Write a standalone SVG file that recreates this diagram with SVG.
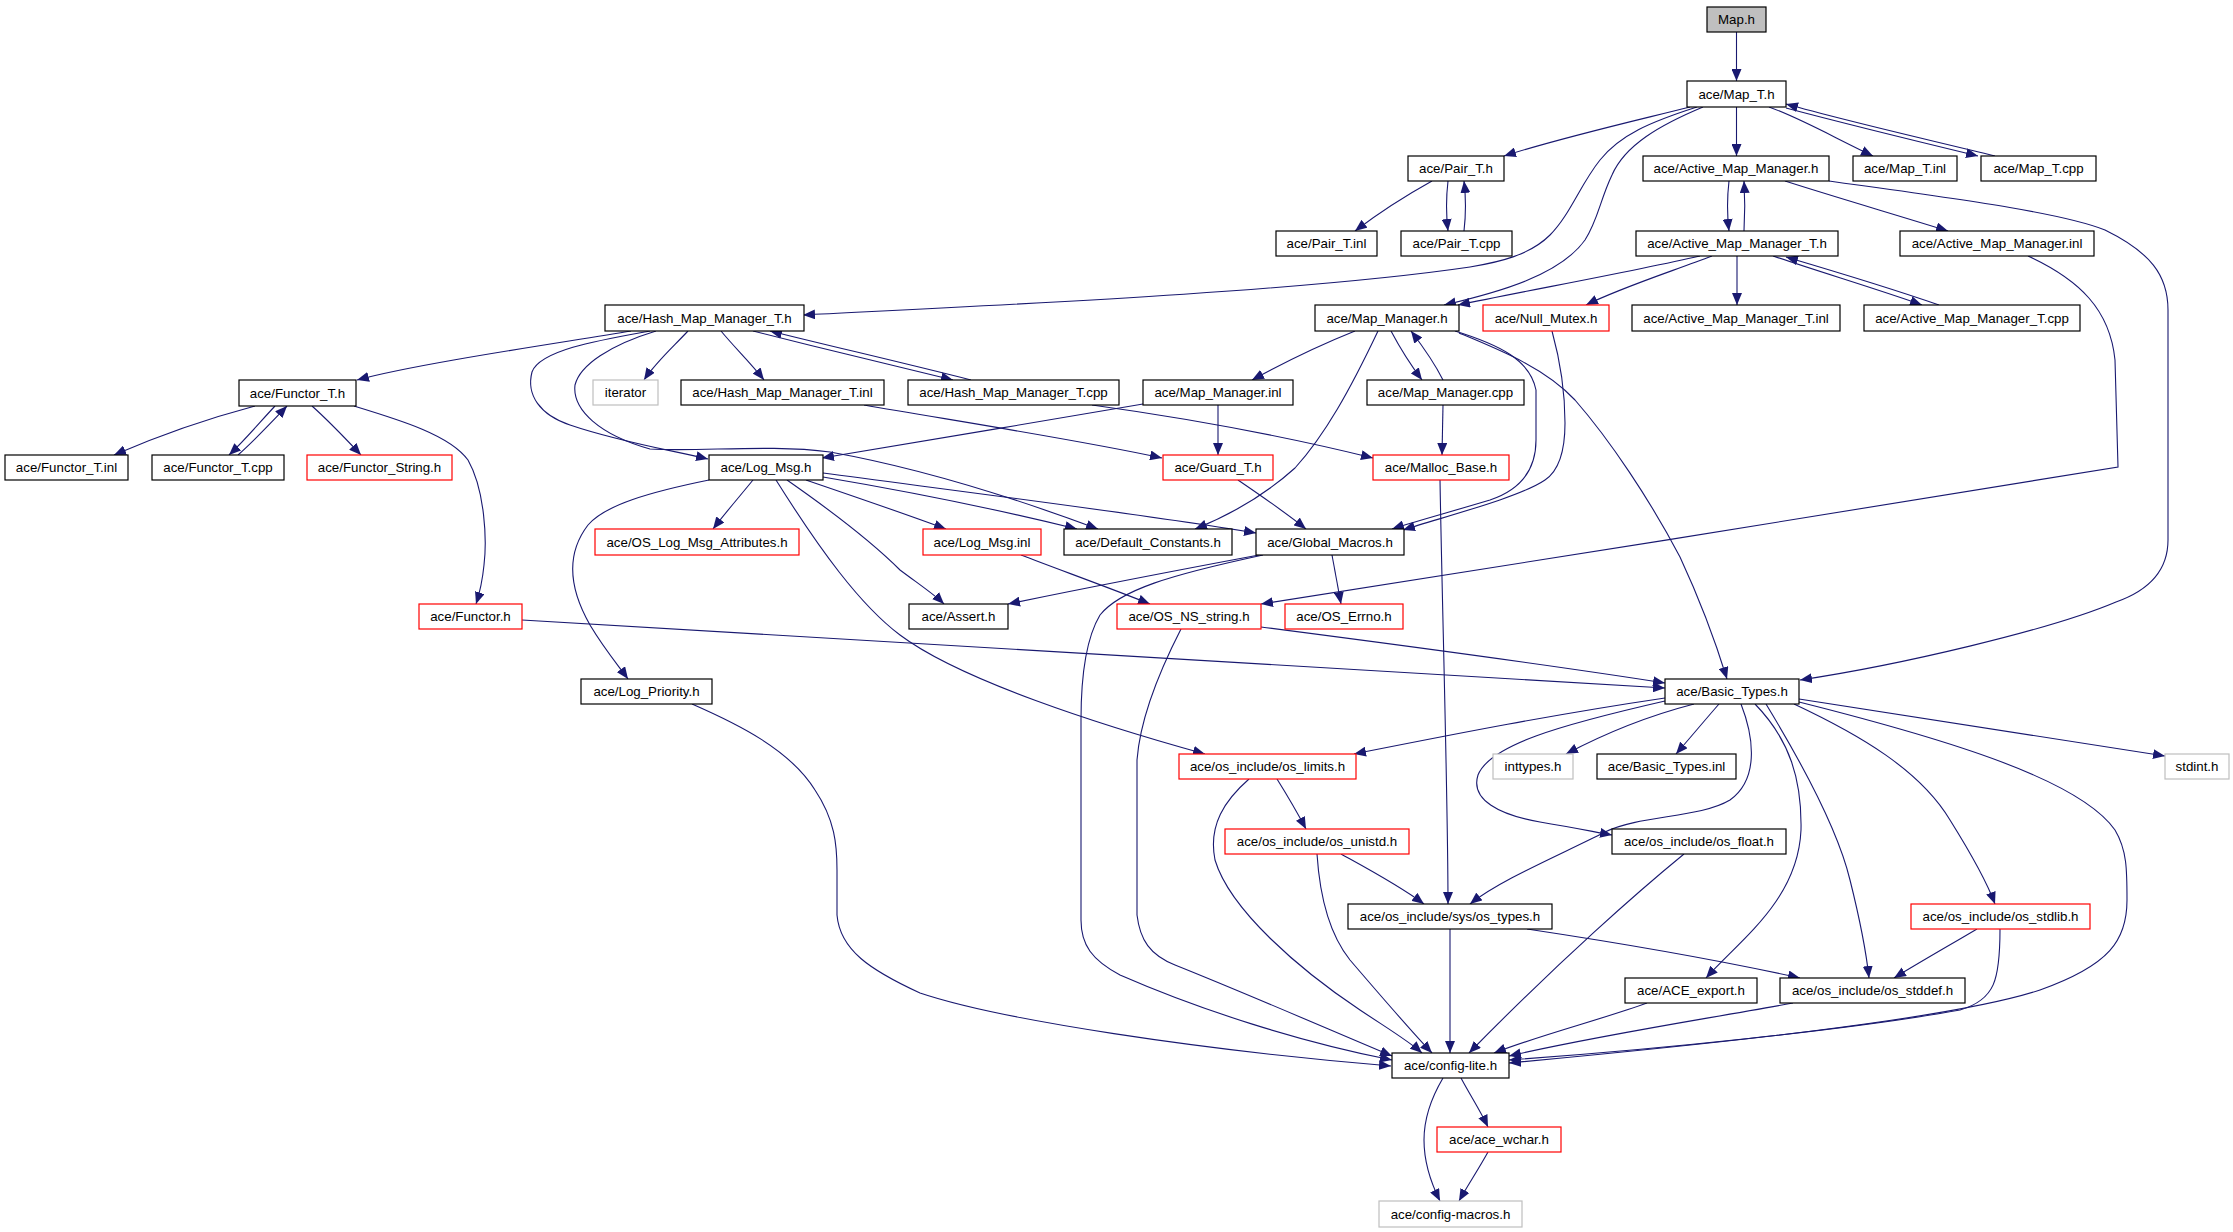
<svg xmlns="http://www.w3.org/2000/svg" width="2233" height="1232" viewBox="0 0 2233 1232">
<defs>
<marker id="a" markerWidth="12" markerHeight="10" refX="12" refY="5" orient="auto" markerUnits="userSpaceOnUse"><path d="M0,0 L12,5 L0,10 z" fill="#191970"/></marker>
<style>
.n rect{fill:#fff;stroke:#000;stroke-width:1.2}
.n.r rect{stroke:#ff0000}
.n.g rect{stroke:#bfbfbf}
.n.root rect{fill:#bfbfbf}
.n text{font-family:"Liberation Sans",Arial,sans-serif;font-size:13.3px;text-anchor:middle;fill:#000}
#edges path{fill:none;stroke:#191970;stroke-width:1.1;marker-end:url(#a)}
</style>
</defs>
<rect width="2233" height="1232" fill="#fff"/>
<g id="edges">
<path d="M1736.5,32 L1736.5,81"/>
<path d="M1690,107 C1630,122 1560,138 1504,156"/>
<path d="M1697,107 C1650,122 1620,135 1600,160 C1580,185 1570,215 1550,235 C1530,255 1500,262 1470,267 C1300,292 1000,305 803,315"/>
<path d="M1703,107 C1660,125 1625,145 1612,175 C1600,200 1598,220 1585,240 C1560,275 1500,292 1444,305"/>
<path d="M1736.5,107 L1736.5,156"/>
<path d="M1769,107 C1800,118 1835,138 1873,156"/>
<path d="M1786,108 C1850,125 1920,142 1978,156"/>
<path d="M1995,156 C1930,140 1850,122 1786,104"/>
<path d="M1432,181 C1405,196 1380,212 1355,231"/>
<path d="M1448,181 C1446,198 1446,214 1448,231"/>
<path d="M1464,231 C1466,214 1466,198 1464,181"/>
<path d="M1729,181 C1727,198 1727,214 1729,231"/>
<path d="M1744,231 C1745,214 1745,198 1744,181"/>
<path d="M1785,181 C1835,197 1900,216 1948,231"/>
<path d="M1829,181 C1950,198 2060,212 2105,230 C2150,252 2168,275 2168,310 L2168,540 C2168,570 2150,590 2116,602 C2050,630 1900,665 1800,680"/>
<path d="M1700,256 C1630,272 1530,290 1458,305"/>
<path d="M1712,256 C1670,272 1620,288 1586,305"/>
<path d="M1737,256 L1737,305"/>
<path d="M1773,256 C1820,272 1880,290 1922,305"/>
<path d="M1939,305 C1890,288 1830,270 1786,257"/>
<path d="M2028,256 C2080,280 2110,310 2115,360 L2118,467 C1900,503 1500,567 1261,604"/>
<path d="M631,331 C560,343 420,363 357,380"/>
<path d="M688,331 C672,348 656,362 644,380"/>
<path d="M721,331 C735,348 750,362 764,380"/>
<path d="M753,331 C820,348 890,365 953,380"/>
<path d="M971,380 C900,362 830,346 770,331"/>
<path d="M650,331 C600,340 540,350 532,372 C526,395 540,415 570,425 C620,442 670,450 708,459"/>
<path d="M656,331 C610,345 580,365 575,385 C572,410 600,435 650,449 C700,452 770,444 830,452 C920,468 1020,500 1098,529"/>
<path d="M864,405 C950,420 1080,440 1162,458"/>
<path d="M1092,405 C1200,420 1300,440 1373,458"/>
<path d="M1355,331 C1320,345 1285,362 1252,380"/>
<path d="M1391,331 C1400,348 1410,364 1422,380"/>
<path d="M1443,380 C1435,364 1424,348 1411,331"/>
<path d="M1378,331 C1350,390 1325,435 1295,468 C1265,495 1230,515 1195,529"/>
<path d="M1455,331 C1500,345 1530,360 1536,390 L1536,440 C1536,470 1520,490 1490,500 C1450,512 1420,520 1392,529"/>
<path d="M1459,333 C1500,350 1545,368 1575,400 C1610,440 1650,500 1680,557 C1700,600 1715,640 1727,679"/>
<path d="M1552,331 C1560,360 1565,390 1565,423 C1565,450 1560,470 1545,480 C1520,497 1450,515 1403,530"/>
<path d="M1218,405 L1218,455"/>
<path d="M1143,404 C1050,420 900,445 822,458"/>
<path d="M1443,405 L1442,455"/>
<path d="M1238,480 C1260,495 1285,512 1306,529"/>
<path d="M1440,480 C1442,600 1448,800 1448,904"/>
<path d="M255,406 C210,418 160,435 114,455"/>
<path d="M275,406 C260,422 245,440 229,455"/>
<path d="M238,455 C255,440 270,424 287,406"/>
<path d="M312,406 C330,422 345,438 361,455"/>
<path d="M354,406 C400,420 450,435 468,460 C485,490 487,540 484,565 C482,585 479,595 476,604"/>
<path d="M753,480 C740,496 726,512 713,529"/>
<path d="M709,480 C650,492 605,505 588,525 C565,555 570,590 590,625 C605,650 618,665 628,679"/>
<path d="M776,480 C820,550 860,605 900,635 C960,680 1100,725 1205,754"/>
<path d="M787,480 C830,510 870,540 900,570 C920,585 935,595 944,604"/>
<path d="M806,480 C850,495 900,512 946,529"/>
<path d="M823,477 C900,490 1000,510 1077,529"/>
<path d="M823,473 C950,490 1150,515 1256,533"/>
<path d="M1021,555 C1060,570 1110,588 1150,604"/>
<path d="M1332,555 C1335,572 1338,588 1341,604"/>
<path d="M1259,555 C1200,566 1100,585 1008,604"/>
<path d="M1263,555 C1170,575 1120,590 1100,615 C1085,640 1081,680 1081,720 L1081,920 C1081,945 1092,960 1120,975 C1200,1010 1300,1042 1392,1060"/>
<path d="M522,620 C700,630 1100,655 1665,688"/>
<path d="M1261,627 C1400,645 1550,665 1665,683"/>
<path d="M1181,629 C1160,670 1140,720 1137,760 L1137,915 C1140,940 1150,955 1175,965 C1250,995 1330,1030 1392,1056"/>
<path d="M692,704 C740,725 790,750 815,790 C835,820 837,845 837,870 L837,915 C840,950 870,970 920,993 C1000,1020 1200,1050 1391,1066"/>
<path d="M1665,698 C1550,715 1450,735 1354,754"/>
<path d="M1694,704 C1640,718 1600,736 1566,754"/>
<path d="M1719,704 C1705,720 1690,738 1676,754"/>
<path d="M1665,701 C1560,725 1490,745 1478,775 C1470,800 1500,815 1540,822 C1570,827 1590,831 1612,835"/>
<path d="M1741,704 C1755,740 1758,780 1730,800 C1700,818 1640,815 1605,832 C1560,855 1500,880 1470,904"/>
<path d="M1755,704 C1790,740 1802,780 1801,830 C1798,900 1740,940 1706,978"/>
<path d="M1766,704 C1800,760 1838,830 1850,880 C1860,920 1866,950 1869,978"/>
<path d="M1794,704 C1860,735 1920,770 1950,820 C1975,860 1988,885 1995,904"/>
<path d="M1799,702 C1950,740 2080,780 2115,830 C2127,850 2127,870 2127,900 C2127,940 2110,965 2040,990 C1950,1020 1700,1045 1509,1063"/>
<path d="M1799,699 L2165,756"/>
<path d="M1277,779 C1287,795 1297,812 1306,829"/>
<path d="M1249,779 C1225,800 1208,825 1215,860 C1230,910 1300,970 1360,1010 C1390,1030 1410,1042 1422,1053"/>
<path d="M1341,854 C1370,870 1400,886 1424,904"/>
<path d="M1317,854 C1320,900 1330,935 1350,960 C1380,995 1410,1030 1432,1053"/>
<path d="M1450,929 L1450,1053"/>
<path d="M1527,929 C1600,940 1700,956 1800,978"/>
<path d="M1684,854 C1640,890 1560,960 1469,1053"/>
<path d="M1977,929 C1950,945 1920,962 1894,978"/>
<path d="M2000,929 C2000,980 1995,1000 1960,1010 C1850,1030 1650,1050 1509,1060"/>
<path d="M1647,1003 C1600,1020 1540,1035 1494,1053"/>
<path d="M1793,1003 C1700,1020 1600,1035 1509,1056"/>
<path d="M1461,1078 C1470,1095 1480,1110 1488,1127"/>
<path d="M1443,1078 C1430,1100 1424,1120 1424,1140 C1424,1165 1432,1185 1440,1201"/>
<path d="M1488,1152 C1478,1170 1468,1185 1459,1201"/>
</g>
<g id="n0" class="n root"><rect x="1707" y="7" width="59" height="25"/><text x="1736.5" y="24">Map.h</text></g>
<g id="n1" class="n"><rect x="1687" y="81" width="99" height="26"/><text x="1736.5" y="98.5">ace/Map_T.h</text></g>
<g id="n2" class="n"><rect x="1408" y="156" width="96" height="25"/><text x="1456" y="173">ace/Pair_T.h</text></g>
<g id="n3" class="n"><rect x="1643" y="156" width="186" height="25"/><text x="1736" y="173">ace/Active_Map_Manager.h</text></g>
<g id="n4" class="n"><rect x="1853" y="156" width="104" height="25"/><text x="1905" y="173">ace/Map_T.inl</text></g>
<g id="n5" class="n"><rect x="1981" y="156" width="115" height="25"/><text x="2038.5" y="173">ace/Map_T.cpp</text></g>
<g id="n6" class="n"><rect x="1276" y="231" width="101" height="25"/><text x="1326.5" y="248">ace/Pair_T.inl</text></g>
<g id="n7" class="n"><rect x="1401" y="231" width="111" height="25"/><text x="1456.5" y="248">ace/Pair_T.cpp</text></g>
<g id="n8" class="n"><rect x="1636" y="231" width="202" height="25"/><text x="1737" y="248">ace/Active_Map_Manager_T.h</text></g>
<g id="n9" class="n"><rect x="1900" y="231" width="194" height="25"/><text x="1997" y="248">ace/Active_Map_Manager.inl</text></g>
<g id="n10" class="n"><rect x="605" y="305" width="199" height="26"/><text x="704.5" y="322.5">ace/Hash_Map_Manager_T.h</text></g>
<g id="n11" class="n"><rect x="1315" y="305" width="144" height="26"/><text x="1387" y="322.5">ace/Map_Manager.h</text></g>
<g id="n12" class="n r"><rect x="1483" y="305" width="126" height="26"/><text x="1546" y="322.5">ace/Null_Mutex.h</text></g>
<g id="n13" class="n"><rect x="1632" y="305" width="208" height="26"/><text x="1736" y="322.5">ace/Active_Map_Manager_T.inl</text></g>
<g id="n14" class="n"><rect x="1864" y="305" width="216" height="26"/><text x="1972" y="322.5">ace/Active_Map_Manager_T.cpp</text></g>
<g id="n15" class="n"><rect x="239" y="380" width="117" height="26"/><text x="297.5" y="397.5">ace/Functor_T.h</text></g>
<g id="n16" class="n g"><rect x="593" y="380" width="65" height="25"/><text x="625.5" y="397">iterator</text></g>
<g id="n17" class="n"><rect x="681" y="380" width="203" height="25"/><text x="782.5" y="397">ace/Hash_Map_Manager_T.inl</text></g>
<g id="n18" class="n"><rect x="908" y="380" width="211" height="25"/><text x="1013.5" y="397">ace/Hash_Map_Manager_T.cpp</text></g>
<g id="n19" class="n"><rect x="1143" y="380" width="150" height="25"/><text x="1218" y="397">ace/Map_Manager.inl</text></g>
<g id="n20" class="n"><rect x="1367" y="380" width="157" height="25"/><text x="1445.5" y="397">ace/Map_Manager.cpp</text></g>
<g id="n21" class="n"><rect x="5" y="455" width="123" height="25"/><text x="66.5" y="472">ace/Functor_T.inl</text></g>
<g id="n22" class="n"><rect x="152" y="455" width="132" height="25"/><text x="218" y="472">ace/Functor_T.cpp</text></g>
<g id="n23" class="n r"><rect x="307" y="455" width="145" height="25"/><text x="379.5" y="472">ace/Functor_String.h</text></g>
<g id="n24" class="n"><rect x="709" y="455" width="114" height="25"/><text x="766" y="472">ace/Log_Msg.h</text></g>
<g id="n25" class="n r"><rect x="1163" y="455" width="110" height="25"/><text x="1218" y="472">ace/Guard_T.h</text></g>
<g id="n26" class="n r"><rect x="1373" y="455" width="136" height="25"/><text x="1441" y="472">ace/Malloc_Base.h</text></g>
<g id="n27" class="n r"><rect x="595" y="529" width="204" height="26"/><text x="697" y="546.5">ace/OS_Log_Msg_Attributes.h</text></g>
<g id="n28" class="n r"><rect x="923" y="529" width="118" height="26"/><text x="982" y="546.5">ace/Log_Msg.inl</text></g>
<g id="n29" class="n"><rect x="1064" y="529" width="168" height="26"/><text x="1148" y="546.5">ace/Default_Constants.h</text></g>
<g id="n30" class="n"><rect x="1256" y="529" width="148" height="26"/><text x="1330" y="546.5">ace/Global_Macros.h</text></g>
<g id="n31" class="n r"><rect x="419" y="604" width="103" height="25"/><text x="470.5" y="621">ace/Functor.h</text></g>
<g id="n32" class="n"><rect x="909" y="604" width="99" height="25"/><text x="958.5" y="621">ace/Assert.h</text></g>
<g id="n33" class="n r"><rect x="1117" y="604" width="144" height="25"/><text x="1189" y="621">ace/OS_NS_string.h</text></g>
<g id="n34" class="n r"><rect x="1285" y="604" width="118" height="25"/><text x="1344" y="621">ace/OS_Errno.h</text></g>
<g id="n35" class="n"><rect x="581" y="679" width="131" height="25"/><text x="646.5" y="696">ace/Log_Priority.h</text></g>
<g id="n36" class="n"><rect x="1665" y="679" width="134" height="25"/><text x="1732" y="696">ace/Basic_Types.h</text></g>
<g id="n37" class="n r"><rect x="1179" y="754" width="177" height="25"/><text x="1267.5" y="771">ace/os_include/os_limits.h</text></g>
<g id="n38" class="n g"><rect x="1493" y="754" width="80" height="25"/><text x="1533" y="771">inttypes.h</text></g>
<g id="n39" class="n"><rect x="1597" y="754" width="139" height="25"/><text x="1666.5" y="771">ace/Basic_Types.inl</text></g>
<g id="n40" class="n g"><rect x="2165" y="754" width="64" height="25"/><text x="2197" y="771">stdint.h</text></g>
<g id="n41" class="n r"><rect x="1225" y="829" width="184" height="25"/><text x="1317" y="846">ace/os_include/os_unistd.h</text></g>
<g id="n42" class="n"><rect x="1612" y="829" width="174" height="25"/><text x="1699" y="846">ace/os_include/os_float.h</text></g>
<g id="n43" class="n"><rect x="1348" y="904" width="204" height="25"/><text x="1450" y="921">ace/os_include/sys/os_types.h</text></g>
<g id="n44" class="n r"><rect x="1911" y="904" width="179" height="25"/><text x="2000.5" y="921">ace/os_include/os_stdlib.h</text></g>
<g id="n45" class="n"><rect x="1625" y="978" width="132" height="25"/><text x="1691" y="995">ace/ACE_export.h</text></g>
<g id="n46" class="n"><rect x="1780" y="978" width="185" height="25"/><text x="1872.5" y="995">ace/os_include/os_stddef.h</text></g>
<g id="n47" class="n"><rect x="1392" y="1053" width="117" height="25"/><text x="1450.5" y="1070">ace/config-lite.h</text></g>
<g id="n48" class="n r"><rect x="1437" y="1127" width="124" height="25"/><text x="1499" y="1144">ace/ace_wchar.h</text></g>
<g id="n49" class="n g"><rect x="1379" y="1201" width="143" height="26"/><text x="1450.5" y="1218.5">ace/config-macros.h</text></g>
</svg>
